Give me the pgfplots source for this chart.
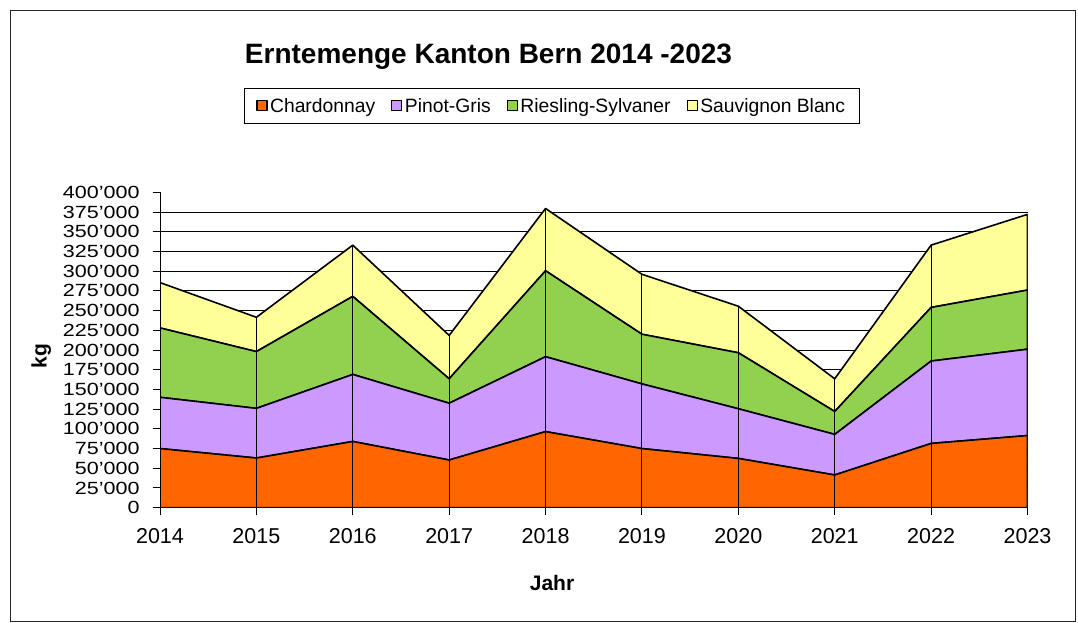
\documentclass[border=0pt]{standalone}
\usepackage{fontspec}
\setmainfont{Liberation Sans}
\usepackage{graphicx}
\usepackage{pgfplots}
\usepackage{pgfplotstable}
\pgfplotsset{compat=1.18}
\definecolor{chard}{HTML}{FF6600}
\definecolor{pinot}{HTML}{CC99FF}
\definecolor{ries}{HTML}{92D050}
\definecolor{sauv}{HTML}{FFFF99}
\pgfplotstableread{
year C P R S
2014 75000 65000 88000 57500
2015 63000 63000 72000 43500
2016 84000 85000 99000 65000
2017 60500 72000 31000 55000
2018 96500 95000 109000 79000
2019 75000 82000 63000 76000
2020 62500 63000 71000 59000
2021 41500 51500 29000 41500
2022 81500 104500 68000 79000
2023 91500 109500 75000 96000
}\data
\pgfplotsset{
  base/.style={scale only axis, width=867.5bp, height=315.4bp,
    at={(160bp,115.3bp)}, anchor=south west,
    xmin=2014, xmax=2023, ymin=0, ymax=400000}
}
\begin{document}
\begin{tikzpicture}
\path[use as bounding box] (0,0) rectangle (1078bp,623bp);
\draw[line width=1bp, black!85] (10bp,1.5bp) rectangle (1075.5bp,612bp);
\begin{axis}[base,
  axis x line*=bottom, axis y line*=left,
  axis line style={-, black, line width=1bp},
  xtick={2014,2015,2016,2017,2018,2019,2020,2021,2022,2023},
  ytick={0,25000,50000,75000,100000,125000,150000,175000,200000,225000,250000,275000,300000,325000,350000,375000,400000},
  scaled y ticks=false,
  tick align=outside, major tick length=7bp,
  tick style={black, line width=1bp},
  /pgf/number format/assume math mode=true,
  x tick label style={font=\fontsize{21.5bp}{24bp}\selectfont, yshift=-10bp, /pgf/number format/1000 sep={}},
  y tick label style={font=\fontsize{21.5bp}{24bp}\selectfont, xshift=-10bp, /pgf/number format/.cd, fixed, 1000 sep={'}},
  yticklabel={\scalebox{1}[0.82]{\pgfmathprintnumber{\tick}}},
  extra y ticks={25000,50000,75000,100000,125000,150000,175000,200000,225000,250000,275000,300000,325000,350000,375000},
  extra y tick style={grid=major, major tick length=0pt, yticklabel={}},
  grid style={black, line width=1bp},
  stack plots=y,
  title={Erntemenge Kanton Bern 2014 -2023},
  title style={at={(axis description cs:0.3787,1.390)}, anchor=base,
    font=\bfseries\fontsize{28bp}{32bp}\selectfont},
  xlabel={Jahr},
  xlabel style={at={(axis description cs:0.4519,-0.2632)}, anchor=base,
    font=\bfseries\fontsize{21bp}{24bp}\selectfont},
  ylabel={kg},
  ylabel style={at={(axis description cs:-0.1370,0.481)}, anchor=center,
    font=\bfseries\fontsize{21bp}{24bp}\selectfont},
  legend columns=4,
  legend style={at={(axis description cs:0.4519,1.2743)}, anchor=center,
    draw=black, line width=1bp, font=\fontsize{19.3bp}{22bp}\selectfont,
    inner xsep=11.5bp, inner ysep=8bp,
    nodes={inner xsep=2.5bp},
    /tikz/every even column/.append style={column sep=13.5bp}},
  legend image code/.code={\draw[#1, line width=1.2bp] (0bp,-5bp) rectangle (10bp,5bp);},
]
\addplot[fill=chard, draw=black, line width=1.6bp, line join=round] table[x=year,y=C] {\data} \closedcycle;
\addplot[fill=pinot, draw=black, line width=1.6bp, line join=round] table[x=year,y=P] {\data} \closedcycle;
\addplot[fill=ries, draw=black, line width=1.6bp, line join=round] table[x=year,y=R] {\data} \closedcycle;
\addplot[fill=sauv, draw=black, line width=1.6bp, line join=round] table[x=year,y=S] {\data} \closedcycle;
\legend{Chardonnay, Pinot-Gris, Riesling-Sylvaner, Sauvignon Blanc}
\end{axis}
\begin{axis}[base, hide axis]
\addplot[ycomb, black, line width=1bp, mark=none] table[x=year, y expr=\thisrow{C}+\thisrow{P}+\thisrow{R}+\thisrow{S}] {\data};
\end{axis}
\end{tikzpicture}
\end{document}
